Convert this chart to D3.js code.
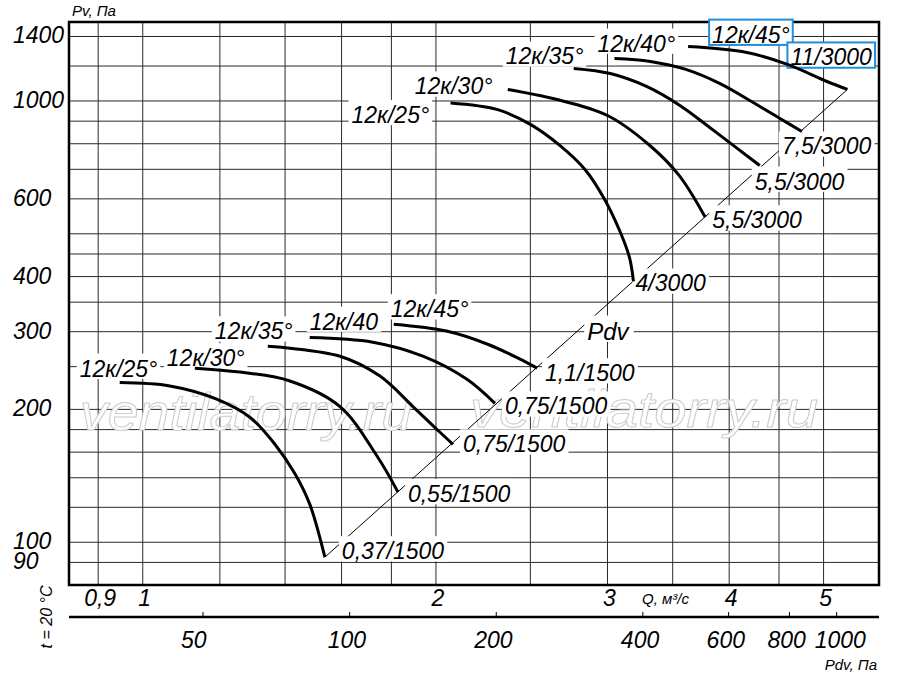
<!DOCTYPE html>
<html>
<head>
<meta charset="utf-8">
<script src="https://cdn.jsdelivr.net/npm/d3@7"></script>
<style>
  body { margin: 0; background: #fff; }
  svg text { font-family: "Liberation Sans", Arial, sans-serif; font-style: italic; fill: #000; }
</style>
</head>
<body>
<div id="chart"></div>
<script>
// axis values
const qTicks = [0.9, 1, 2, 3, 4, 5];
const qTickLabels = ["0,9", "1", "2", "3", "4", "5"];
const qGrid = [0.9, 1, 1.2, 1.4, 1.6, 1.8, 2, 2.5, 3, 3.5, 4, 4.5, 5];
const pvGrid = [90, 100, 120, 140, 160, 180, 200, 250, 300, 350, 400, 450, 500, 600, 700, 800, 900, 1000, 1200, 1400];
const pvTicks = [90, 100, 200, 300, 400, 600, 1000, 1400];
const pdvTicks = [50, 100, 200, 400, 600, 800, 1000];

// fan curves, [Q m3/s, Pv Pa]
const names3000 = ["12к/25°", "12к/30°", "12к/35°", "12к/40°", "12к/45°"];
const motors3000 = ["4/3000", "5,5/3000", "5,5/3000", "7,5/3000", "11/3000"];
const curves3000 = [
  [[2.07, 990], [2.31, 957], [2.50, 885], [2.68, 793], [2.85, 696], [2.98, 598], [3.09, 506], [3.16, 442], [3.19, 390]],
  [[2.37, 1062], [2.65, 1010], [3.00, 927], [3.30, 800], [3.55, 680], [3.78, 545]],
  [[2.77, 1185], [3.02, 1154], [3.29, 1079], [3.56, 977], [3.82, 871], [4.08, 780], [4.30, 714]],
  [[3.05, 1248], [3.32, 1229], [3.61, 1179], [3.91, 1096], [4.25, 987], [4.51, 913], [4.75, 853]],
  [[3.63, 1328], [4.17, 1288], [4.59, 1210], [5.04, 1107], [5.29, 1062]]
];

const names1500 = ["12к/25°", "12к/30°", "12к/35°", "12к/40", "12к/45°"];
const motors1500 = ["0,37/1500", "0,55/1500", "0,75/1500", "0,75/1500", "1,1/1500"];
const curves1500 = [
  [[0.947, 230], [1.066, 226], [1.191, 211], [1.288, 192], [1.366, 167], [1.433, 143], [1.484, 122], [1.538, 92.5]],
  [[1.131, 248], [1.258, 243], [1.416, 232], [1.594, 203], [1.739, 157], [1.828, 130]],
  [[1.344, 278], [1.594, 264], [1.752, 238], [1.894, 203], [2.019, 177.5], [2.082, 166.7]],
  [[1.484, 291], [1.723, 284], [1.939, 264], [2.152, 234], [2.299, 206.4]],
  [[1.81, 312], [2.05, 301], [2.26, 281], [2.44, 260], [2.54, 248]]
];

// dynamic pressure line
const pdvLine = [[1.538, 92.5], [5.29, 1062]];
const pdvK = 37.6; // Pdv = K * Q^2 for the lower scale

const W = 900, H = 673;
const plot = { left: 69, right: 879, top: 22, bottom: 585 };

const svg = d3.select("#chart").append("svg")
  .attr("width", W).attr("height", H);

const x = d3.scaleLog().domain([0.84, 5.70]).range([plot.left, plot.right]);
const y = d3.scaleLog().domain([80, 1510]).range([plot.bottom, plot.top]);
const pdvX = p => x(Math.sqrt(p / pdvK));

// grid
const grid = svg.append("g").attr("stroke", "#2a2a2a").attr("stroke-width", 1);
grid.selectAll("line.v").data(qGrid).join("line")
  .attr("class", "v")
  .attr("x1", d => x(d)).attr("x2", d => x(d))
  .attr("y1", plot.top).attr("y2", plot.bottom);
grid.selectAll("line.h").data(pvGrid).join("line")
  .attr("class", "h")
  .attr("x1", plot.left).attr("x2", plot.right)
  .attr("y1", d => y(d)).attr("y2", d => y(d));

// watermark
const wm = svg.append("g");
[[80, 430, 332], [470, 427, 348]].forEach(([wx, wy, wl]) => {
  wm.append("text")
    .attr("x", wx).attr("y", wy)
    .attr("textLength", wl).attr("lengthAdjust", "spacingAndGlyphs")
    .style("font-size", "52px")
    .style("fill", "#fff")
    .attr("stroke", "#cccccc").attr("stroke-width", 1)
    .text("ventilatorry.ru");
});

// frame
svg.append("rect")
  .attr("x", plot.left).attr("y", plot.top)
  .attr("width", plot.right - plot.left).attr("height", plot.bottom - plot.top)
  .attr("fill", "none").attr("stroke", "#000").attr("stroke-width", 2.5);

// Pdv line
const line = d3.line().x(d => x(d[0])).y(d => y(d[1]));
svg.append("path").datum(pdvLine)
  .attr("d", line).attr("fill", "none")
  .attr("stroke", "#000").attr("stroke-width", 1);

// labels with white boxes
const labels = svg.append("g");
function boxLabel(tx, ty, text, size, border) {
  const g = labels.append("g");
  const r = g.append("rect");
  const t = g.append("text")
    .attr("x", tx).attr("y", ty)
    .style("font-size", size + "px")
    .text(text);
  const bb = t.node().getBBox();
  r.attr("x", bb.x - 3).attr("width", bb.width + 6)
    .attr("y", ty - size * 1.0).attr("height", size * 1.1)
    .attr("fill", "#fff");
  if (border) r.attr("stroke", "#1e8fdc").attr("stroke-width", 2);
  return g;
}

const curve = d3.line()
  .x(d => x(d[0])).y(d => y(d[1]))
  .curve(d3.curveCatmullRom.alpha(0.5));

// label offsets from curve start / end in px
const nameOff3000 = [[-99, 20], [-93, 5], [-68, -4], [-17, -7], [24, -4]];
const motorOff3000 = [[2, 10], [7, 11], [-5, 24], [-20, 23], [-57, -24]];
const nameOff1500 = [[-40, -6], [-28, -2], [-53, -7], [0, -8], [-3, -7]];
const motorOff1500 = [[17, 2], [10, 10], [10, 8], [10, 11], [8, 13]];

function drawGroup(curves, names, motors, nameOff, motorOff, boxed) {
  curves.forEach((c, i) => {
    const s = c[0], e = c[c.length - 1];
    boxLabel(x(s[0]) + nameOff[i][0], y(s[1]) + nameOff[i][1], names[i], 23, boxed && i === 4);
    boxLabel(x(e[0]) + motorOff[i][0], y(e[1]) + motorOff[i][1], motors[i], 23, boxed && i === 4);
  });
}
drawGroup(curves3000, names3000, motors3000, nameOff3000, motorOff3000, true);
drawGroup(curves1500, names1500, motors1500, nameOff1500, motorOff1500, false);
boxLabel(x(2.86), y(288), "Pdv", 24, false);

svg.append("g").selectAll("path")
  .data(curves3000.concat(curves1500))
  .join("path")
  .attr("d", curve)
  .attr("fill", "none")
  .attr("stroke", "#000")
  .attr("stroke-width", 3);

// Y tick labels
svg.append("g").selectAll("text").data(pvTicks).join("text")
  .attr("x", 13).attr("y", d => y(d) + 7)
  .style("font-size", "23px")
  .text(d => d);

svg.append("text").attr("x", 72).attr("y", 16)
  .style("font-size", "15px").text("Pv, Па");

// Q tick labels
svg.append("g").selectAll("text").data(qTicks).join("text")
  .attr("x", d => x(d) + 2).attr("y", 606)
  .attr("text-anchor", "middle")
  .style("font-size", "23px")
  .text((d, i) => qTickLabels[i]);

svg.append("text").attr("x", 642).attr("y", 604)
  .style("font-size", "15px").text("Q, м³/с");

// Pdv axis
const pdvAxisY = 617;
svg.append("line")
  .attr("x1", plot.left).attr("x2", plot.right)
  .attr("y1", pdvAxisY).attr("y2", pdvAxisY)
  .attr("stroke", "#000").attr("stroke-width", 2.5);
svg.append("g").selectAll("line").data(pdvTicks).join("line")
  .attr("x1", d => pdvX(d)).attr("x2", d => pdvX(d))
  .attr("y1", pdvAxisY - 5).attr("y2", pdvAxisY)
  .attr("stroke", "#000").attr("stroke-width", 1);
svg.append("g").selectAll("text").data(pdvTicks).join("text")
  .attr("x", d => pdvX(d) - 22).attr("y", 648)
  .style("font-size", "23px")
  .text(d => d);

svg.append("text").attr("x", 877).attr("y", 670)
  .attr("text-anchor", "end")
  .style("font-size", "15px").text("Pdv, Па");

svg.append("text")
  .attr("transform", "translate(52,617) rotate(-90)")
  .attr("text-anchor", "middle")
  .style("font-size", "16px")
  .text("t = 20 °С");
</script>
</body>
</html>
